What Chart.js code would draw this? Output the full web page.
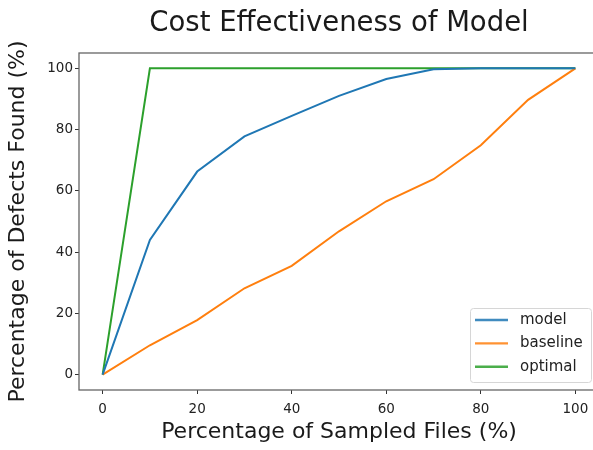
<!DOCTYPE html>
<html><head><meta charset="utf-8">
<script src="https://cdn.jsdelivr.net/npm/chart.js@4"></script>
<style>
html,body{margin:0;padding:0;overflow:hidden;background:#fff;width:593px;height:450px}
#wrap{width:600px;height:450px}
</style></head>
<body><div id="wrap"><canvas id="c" width="600" height="450"></canvas></div>
<script>
const sampledFiles = [0, 10, 20, 30, 40, 50, 60, 70, 80, 90, 100];
const modelFound = [0, 44, 66.3, 77.8, 84.5, 91, 96.5, 99.7, 100, 100, 100];
const baselineFound = [0, 9.6, 17.8, 28.2, 35.5, 46.8, 56.6, 63.8, 74.9, 89.7, 100];
const optimalFound = [0, 100, 100, 100, 100, 100, 100, 100, 100, 100, 100];
const tickValues = [0, 20, 40, 60, 80, 100];
const seriesNames = ['model', 'baseline', 'optimal'];
const seriesColors = ['#1f77b4', '#ff7f0e', '#2ca02c'];
const seriesValues = [modelFound, baselineFound, optimalFound];

const FONT = 'DejaVu Sans';

const framePlugin = {
  id: 'frame',
  afterDatasetsDraw(chart) {
    const {ctx, chartArea: a} = chart;
    ctx.save();
    ctx.strokeStyle = '#666';
    ctx.lineWidth = 1.3;
    ctx.strokeRect(a.left, a.top, a.right - a.left, a.bottom - a.top);
    ctx.restore();
  }
};

const legendPlugin = {
  id: 'boxLegend',
  afterDraw(chart) {
    const {ctx, chartArea: a} = chart;
    const bw = 121, bh = 74;
    const bx = a.right - 8 - bw, by = a.bottom - 8 - bh;
    ctx.save();
    ctx.fillStyle = 'rgba(255,255,255,0.85)';
    ctx.strokeStyle = '#d6d6d6';
    ctx.lineWidth = 1;
    ctx.beginPath();
    ctx.roundRect(bx + 0.5, by + 0.5, bw, bh, 3);
    ctx.fill();
    ctx.stroke();
    ctx.font = '15px "' + FONT + '"';
    ctx.textBaseline = 'middle';
    ctx.textAlign = 'left';
    chart.data.datasets.forEach((ds, i) => {
      const y = by + 12 + i * 23.4;
      ctx.strokeStyle = ds.borderColor;
      ctx.globalAlpha = 0.85;
      ctx.lineWidth = 2.4;
      ctx.beginPath();
      ctx.moveTo(bx + 5, y);
      ctx.lineTo(bx + 38, y);
      ctx.stroke();
      ctx.globalAlpha = 1;
      ctx.fillStyle = '#222';
      ctx.fillText(ds.label, bx + 50, y);
    });
    ctx.restore();
  }
};

const datasets = seriesNames.map((name, i) => ({
  label: name,
  data: sampledFiles.map((x, j) => ({x: x, y: seriesValues[i][j]})),
  borderColor: seriesColors[i],
  backgroundColor: seriesColors[i],
  borderWidth: 2,
  pointRadius: 0,
  tension: 0,
  fill: false
}));

const setTicks = axis => { axis.ticks = tickValues.map(v => ({value: v})); };

new Chart(document.getElementById('c'), {
  type: 'line',
  data: {datasets},
  options: {
    responsive: false,
    animation: false,
    devicePixelRatio: 1,
    layout: {padding: {left: 0, right: 1, top: 0, bottom: 0}},
    plugins: {
      legend: {display: false},
      tooltip: {enabled: false},
      title: {
        display: true,
        text: 'Cost Effectiveness of Model',
        fullSize: false,
        color: '#1a1a1a',
        font: {family: FONT, size: 27.5, weight: 'normal'},
        padding: {top: 7.5, bottom: 12.5}
      }
    },
    scales: {
      x: {
        type: 'linear', min: -5, max: 105,
        afterBuildTicks: setTicks,
        afterFit: s => { s.height = 60; },
        grid: {drawOnChartArea: false, drawTicks: true, tickLength: 4, color: '#333'},
        border: {display: false},
        ticks: {autoSkip: false, maxRotation: 0, padding: 7, color: '#222', font: {family: FONT, size: 13.5}},
        title: {display: true, text: 'Percentage of Sampled Files (%)', color: '#1a1a1a',
                font: {family: FONT, size: 22}, padding: {top: 0, bottom: 4.8}}
      },
      y: {
        type: 'linear', min: -5, max: 105,
        afterBuildTicks: setTicks,
        afterFit: s => { s.width = 79; },
        grid: {drawOnChartArea: false, drawTicks: true, tickLength: 4, color: '#333'},
        border: {display: false},
        ticks: {autoSkip: false, padding: 2, color: '#222', font: {family: FONT, size: 13.5}},
        title: {display: true, text: 'Percentage of Defects Found (%)', color: '#1a1a1a',
                font: {family: FONT, size: 22}, padding: {top: 4.8, bottom: 0}}
      }
    }
  },
  plugins: [framePlugin, legendPlugin]
});
</script>
</body></html>
